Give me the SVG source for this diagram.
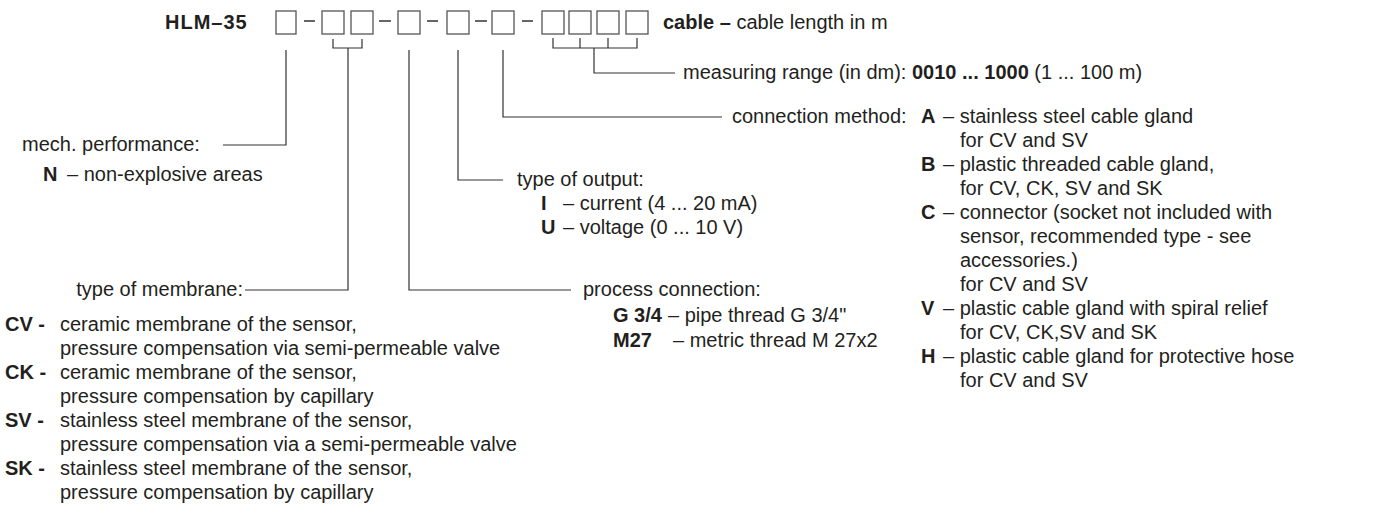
<svg xmlns="http://www.w3.org/2000/svg" width="1378" height="517" viewBox="0 0 1378 517">
<style>
text{font-family:"Liberation Sans",Arial,sans-serif;font-size:20px;fill:#231f20}
.b{font-weight:bold}
.box{fill:none;stroke:#555;stroke-width:1.3}
.ln{fill:none;stroke:#333;stroke-width:1.2}
.dash{stroke:#333;stroke-width:1.5}
</style>
<rect width="1378" height="517" fill="#fff"/>
<g id="code">
<text class="b" x="165" y="29" letter-spacing="1">HLM–35</text>
<rect class="box" x="276" y="11" width="20" height="23"/>
<rect class="box" x="322" y="11" width="22" height="23"/>
<rect class="box" x="351" y="11" width="22" height="23"/>
<rect class="box" x="398" y="11" width="22" height="23"/>
<rect class="box" x="447" y="11" width="22" height="23"/>
<rect class="box" x="492" y="11" width="22" height="23"/>
<rect class="box" x="542" y="11" width="22" height="23"/>
<rect class="box" x="569" y="11" width="22" height="23"/>
<rect class="box" x="597" y="11" width="22" height="23"/>
<rect class="box" x="626" y="11" width="22" height="23"/>
<line class="dash" x1="304" y1="21" x2="315" y2="21"/>
<line class="dash" x1="379" y1="21" x2="391" y2="21"/>
<line class="dash" x1="427" y1="21" x2="438" y2="21"/>
<line class="dash" x1="475" y1="21" x2="487" y2="21"/>
<line class="dash" x1="522" y1="21" x2="533" y2="21"/>
<text x="663" y="29"><tspan class="b">cable –</tspan> cable length in m</text>
</g>
<g id="connectors">
<path class="ln" d="M286,50V145H223"/>
<path class="ln" d="M333,39V48H362V39M348,48V290H245"/>
<path class="ln" d="M409,50V290H571"/>
<path class="ln" d="M458,50V180H503"/>
<path class="ln" d="M503,50V117H722"/>
<path class="ln" d="M553,38V48H637V38M580,38V48M608,38V48M594,48V73H675"/>
</g>
<g id="measuring">
<text x="683" y="79">measuring range (in dm): <tspan class="b">0010 ... 1000</tspan> (1 ... 100 m)</text>
</g>
<g id="mech">
<text x="22" y="151">mech. performance:</text>
<text class="b" x="43" y="181">N</text>
<text x="67" y="181">– non-explosive areas</text>
</g>
<g id="membrane">
<text x="243" y="296" text-anchor="end">type of membrane:</text>
<text class="b" x="5" y="331">CV -</text>
<text x="60" y="331">ceramic membrane of the sensor,</text>
<text x="60" y="355">pressure compensation via semi-permeable valve</text>
<text class="b" x="5" y="379">CK -</text>
<text x="60" y="379">ceramic membrane of the sensor,</text>
<text x="60" y="403">pressure compensation by capillary</text>
<text class="b" x="5" y="427">SV -</text>
<text x="60" y="427">stainless steel membrane of the sensor,</text>
<text x="60" y="451">pressure compensation via a semi-permeable valve</text>
<text class="b" x="5" y="475">SK -</text>
<text x="60" y="475">stainless steel membrane of the sensor,</text>
<text x="60" y="499">pressure compensation by capillary</text>
</g>
<g id="process">
<text x="583" y="296">process connection:</text>
<text class="b" x="613" y="322">G 3/4</text>
<text x="668" y="322">– pipe thread G 3/4"</text>
<text class="b" x="613" y="347">M27</text>
<text x="673" y="347">– metric thread M 27x2</text>
</g>
<g id="output">
<text x="517" y="186">type of output:</text>
<text class="b" x="541" y="210">I</text>
<text x="563" y="210">– current (4 ... 20 mA)</text>
<text class="b" x="541" y="234">U</text>
<text x="563" y="234">– voltage (0 ... 10 V)</text>
</g>
<g id="connection">
<text x="732" y="123">connection method:</text>
<text class="b" x="921" y="123">A</text>
<text x="943" y="123">– stainless steel cable gland</text>
<text x="960" y="147">for CV and SV</text>
<text class="b" x="921" y="171">B</text>
<text x="943" y="171">– plastic threaded cable gland,</text>
<text x="960" y="195">for CV, CK, SV and SK</text>
<text class="b" x="921" y="219">C</text>
<text x="943" y="219">– connector (socket not included with</text>
<text x="960" y="243">sensor, recommended type - see</text>
<text x="960" y="267">accessories.)</text>
<text x="960" y="291">for CV and SV</text>
<text class="b" x="921" y="315">V</text>
<text x="943" y="315">– plastic cable gland with spiral relief</text>
<text x="960" y="339">for CV, CK,SV and SK</text>
<text class="b" x="921" y="363">H</text>
<text x="943" y="363">– plastic cable gland for protective hose</text>
<text x="960" y="387">for CV and SV</text>
</g>
</svg>
